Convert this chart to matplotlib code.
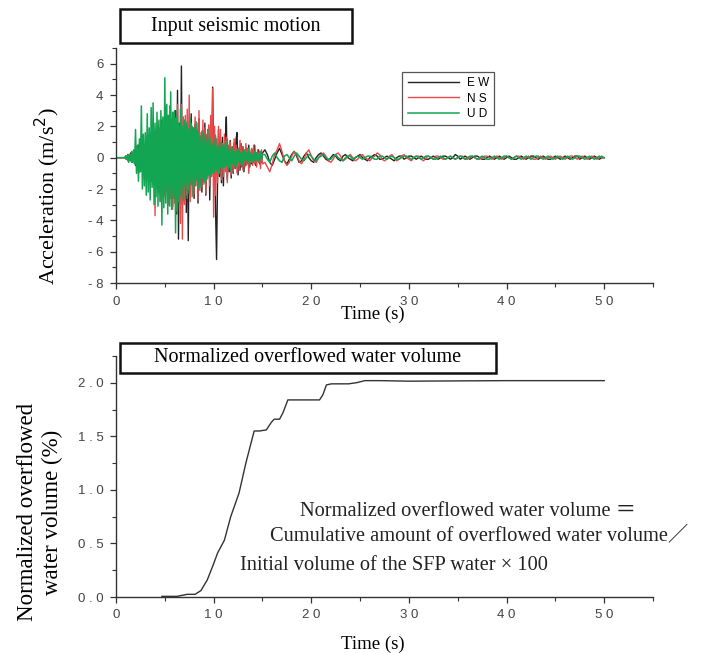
import numpy as np
import matplotlib
matplotlib.use('Agg')
import matplotlib.pyplot as plt
from matplotlib.ticker import MultipleLocator, FuncFormatter
from matplotlib.patches import Rectangle

# --- seismic records (m/s2) ---
# 0-15 s every 0.1 s
ew_fast = [0, 0, 0, 0, 0, 0, 0, 0, 0, 0,
           0.1, -0.1, 0.2, -0.2, 0.1, 0.3, -0.3, 0.2, -0.2, 0.4,
           -0.5, 0.6, -0.4, 0.8, -0.9, 0.5, -0.7, 1.0, -0.8, 0.6,
           -1.0, 1.2, -0.9, 1.4, -1.3, 0.9, -1.5, 1.6, -1.2, 1.1,
           -1.7, 1.8, -1.4, 2.0, -2.2, 1.5, -1.8, 2.4, -2.0, 1.7,
           -2.3, 2.1, -1.9, 2.6, -2.8, 2.9, -2.0, 2.4, -3.1, 2.8,
           -2.5, 3.0, -3.6, 4.3, -5.2, 2.2, -1.5, 5.85, -3.0, 2.0,
           -2.8, 1.5, -3.5, 2.3, -5.3, 1.2, -2.0, 2.8, -1.7, 1.9,
           -2.6, 2.1, -1.4, 1.8, -2.9, 2.5, -1.6, 1.3, -2.2, 1.7,
           -1.5, 2.2, -2.4, 1.4, -1.1, 2.0, -2.7, 1.6, -0.8, 4.5,
           -1.0, 1.5, -3.5, -6.5, -1.5, 1.8, -1.2, 0.9, -1.6, 1.3,
           -1.8, 0.8, 1.2, 2.6, -1.4, 0.6, -0.9, 1.1, -1.3, 0.7,
           -1.0, 0.9, -0.7, 1.2, 1.6, -1.1, 0.5, -0.8, 0.9, -0.6,
           0.7, -0.9, 0.4, -0.5, 0.6, -0.3, 0.8, -0.6, 0.3, -0.4,
           0.5, -0.3, 0.8, -0.5, 0.3, -0.2, 0.5, -0.4, 0.2, -0.3,
           0.3]
ns_fast = [0, 0, 0, 0, 0, 0, 0, 0, 0, 0,
           -0.1, 0.1, -0.2, 0.2, -0.1, 0.2, -0.3, 0.3, -0.2, 0.3,
           -0.4, 0.5, -0.6, 0.4, -0.7, 0.8, -0.5, 0.9, -1.0, 0.7,
           -0.9, 1.1, -1.3, 0.8, -1.1, 1.5, -1.4, 1.2, -1.8, 1.6,
           -3.7, 1.4, -2.0, 2.3, -1.6, 1.9, -2.8, 2.2, -2.1, 1.8,
           -2.5, 3.3, -2.2, 2.7, -3.0, 3.3, -2.6, 2.4, -3.3, 2.9,
           -2.9, 2.5, -3.4, 3.4, -2.8, 2.0, -4.2, 3.4, -5.2, 2.6,
           -3.0, 2.7, -2.4, 3.1, -2.0, 4.0, -2.8, 2.2, -2.5, 1.9,
           -2.3, 2.6, -1.8, 2.2, -2.7, 3.0, -2.1, 1.6, -1.9, 2.4,
           -1.7, 1.9, -2.3, 1.5, -1.3, 2.1, -1.8, 2.7, -1.2, 4.4,
           -3.8, 2.0, -2.4, 1.2, -1.6, 2.0, -1.0, 1.8, -1.4, 0.9,
           -1.2, 1.5, -0.9, 1.3, -1.6, 0.8, -0.6, 1.0, -1.1, 0.7,
           -0.9, 1.2, -0.6, 0.8, -1.0, 0.6, -0.8, 1.1, -0.5, 0.7,
           -0.8, 0.5, -0.6, 0.9, -0.4, 0.6, -1.0, 0.5, -0.3, 0.6,
           -0.5, 0.8, -0.4, 0.3, -0.6, 0.5, -0.3, 0.4, -0.7, 0.5,
           -0.4]
ud_fast = [0, 0, 0, 0, 0, 0, 0, 0, 0, 0,
           0.1, -0.1, 0.2, -0.3, 0.2, -0.2, 0.4, -0.3, 0.5, -0.4,
           1.8, -1.0, 0.8, -1.5, 1.2, -0.9, 3.3, -2.0, 1.5, -1.8,
           1.6, -2.4, 2.8, -2.2, 1.9, -2.7, 3.2, -1.9, 3.5, -3.0,
           2.2, -2.5, 2.9, -3.1, 2.4, -2.8, 3.0, -4.3, 2.6, -3.2,
           5.1, -2.9, 3.4, -3.6, 2.7, -3.1, 4.2, -3.3, 2.9, -2.6,
           3.0, -4.8, 2.6, -3.4, 2.2, -2.9, 3.1, -2.5, 2.0, -2.7,
           2.4, -1.9, 2.2, -2.6, 1.8, -2.3, 2.5, -1.7, 2.0, -2.4,
           1.9, -1.8, 2.3, -1.5, 1.6, -2.0, 1.4, -1.9, 1.7, -1.3,
           1.5, -1.6, 1.2, -1.4, 1.8, -1.1, 1.3, -1.2, 0.9, -1.0,
           1.1, -0.9, 1.4, -0.8, 0.7, -1.0, 0.9, -0.6, 1.0, -0.7,
           0.8, -0.6, 0.9, -0.5, 1.2, -0.7, 0.5, -0.8, 0.6, -0.4,
           0.7, -0.5, 0.4, -0.6, 0.5, -0.3, 0.6, -0.4, 0.3, -0.5,
           0.4, -0.3, 0.5, -0.2, 0.3, -0.4, 0.6, -0.2, 0.3, -0.3,
           0.2, -0.3, 0.4, -0.2, 0.3, -0.2, 0.2, -0.3, 0.4, -0.1,
           0.2]
# 15.25-50 s every 0.25 s (one row = 5 s)
ew_slow = [0.5, 0.2, -0.3, -0.5, -0.1, 0.3, 0.6, 0.2, -0.2, -0.4, -0.1, 0.2, 0.4, 0.1, -0.3, -0.2, 0.1, 0.3, 0.0, -0.2,
           -0.3, 0.0, 0.2, 0.3, 0.1, -0.1, -0.2, 0.0, 0.2, 0.1, -0.1, -0.2, 0.1, 0.2, 0.0, -0.1, -0.2, 0.0, 0.1, 0.2,
           0.0, -0.1, -0.2, 0.0, 0.1, 0.2, 0.1, -0.1, -0.1, 0.0, 0.1, 0.0, -0.1, -0.2, 0.0, 0.1, 0.1, -0.1, 0.0, 0.1,
           0.1, 0.0, -0.1, 0.0, 0.1, 0.0, -0.1, -0.1, 0.0, 0.1, 0.0, -0.1, 0.0, 0.1, 0.1, 0.0, -0.1, 0.0, 0.2, 0.1,
           -0.1, 0.0, 0.1, 0.0, -0.1, 0.0, 0.1, 0.1, 0.0, -0.1, -0.1, 0.0, 0.1, 0.0, -0.1, 0.0, 0.1, 0.0, -0.1, 0.0,
           0.1, 0.0, -0.1, -0.1, 0.0, 0.1, 0.0, -0.1, 0.0, 0.1, 0.1, 0.0, -0.1, 0.0, 0.1, 0.0, -0.1, -0.1, 0.0, 0.1,
           0.0, -0.1, 0.0, 0.1, 0.0, -0.1, 0.0, 0.1, 0.1, -0.1, 0.0, 0.1, 0.0, -0.1, 0.0, 0.1, 0.0, -0.1, 0.0, 0.0]
ns_slow = [-0.3, -0.6, -0.9, -0.4, 0.2, 0.5, 0.9, 0.4, -0.2, -0.5, -0.3, 0.1, 0.4, 0.2, -0.2, -0.4, -0.1, 0.3, 0.5, 0.1,
           -0.2, -0.3, 0.0, 0.2, 0.3, 0.1, -0.2, -0.3, -0.1, 0.2, 0.3, 0.1, -0.2, -0.1, 0.1, 0.2, 0.0, -0.2, -0.1, 0.1,
           0.2, 0.0, -0.1, -0.2, 0.0, 0.1, 0.3, 0.2, -0.1, -0.2, -0.1, 0.1, 0.2, 0.0, -0.2, -0.1, 0.1, 0.2, 0.0, -0.1,
           -0.2, 0.0, 0.1, 0.1, -0.1, -0.2, 0.0, 0.1, 0.0, -0.1, 0.1, 0.1, 0.0, -0.1, -0.1, 0.0, 0.1, 0.0, -0.1, 0.0,
           0.1, 0.1, -0.1, -0.1, 0.0, 0.1, 0.0, -0.1, -0.1, 0.0, 0.1, 0.1, 0.0, -0.1, 0.0, 0.1, 0.0, -0.1, 0.0, 0.1,
           0.0, -0.1, 0.0, 0.1, 0.1, 0.0, -0.1, 0.0, 0.1, 0.0, -0.1, -0.1, 0.0, 0.1, 0.0, -0.1, 0.0, 0.1, 0.0, -0.1,
           0.0, 0.1, 0.0, -0.1, 0.0, 0.1, 0.1, 0.0, -0.1, 0.0, 0.1, 0.0, -0.1, 0.0, 0.1, 0.0, -0.1, 0.0, 0.1, 0.0]
ud_slow = [0.2, -0.1, -0.3, 0.1, 0.3, 0.0, -0.2, -0.3, 0.1, 0.2, 0.0, -0.2, 0.1, 0.3, 0.1, -0.1, -0.2, 0.0, 0.2, 0.1,
           -0.1, -0.2, 0.0, 0.1, 0.2, 0.0, -0.1, -0.1, 0.1, 0.2, 0.0, -0.1, -0.2, 0.0, 0.1, 0.1, -0.1, 0.0, 0.1, 0.0,
           -0.1, 0.0, 0.1, 0.1, 0.0, -0.1, -0.1, 0.1, 0.1, 0.0, -0.1, 0.0, 0.1, 0.0, -0.1, -0.1, 0.0, 0.1, 0.1, 0.0,
           -0.1, 0.0, 0.1, 0.0, -0.1, 0.0, 0.1, 0.1, 0.0, -0.1, -0.1, 0.0, 0.1, 0.0, -0.1, 0.0, 0.1, 0.0, -0.1, 0.0,
           0.1, 0.0, -0.1, 0.0, 0.1, 0.1, 0.0, -0.1, 0.0, 0.1, 0.0, -0.1, -0.1, 0.0, 0.1, 0.0, -0.1, 0.0, 0.1, 0.1,
           0.0, -0.1, 0.0, 0.1, 0.0, -0.1, 0.0, 0.1, 0.0, -0.1, 0.0, 0.1, 0.1, 0.0, -0.1, 0.0, 0.1, 0.0, -0.1, 0.0,
           0.1, 0.0, -0.1, 0.0, 0.1, 0.0, -0.1, 0.0, 0.1, 0.1, 0.0, -0.1, 0.0, 0.1, 0.0, -0.1, 0.0, 0.1, 0.0, 0.0]

t_fast = np.arange(len(ew_fast)) * 0.1
t_slow = 15.25 + np.arange(len(ew_slow)) * 0.25
t_acc = np.concatenate([t_fast, t_slow])

# --- normalized overflowed water volume (%) ---
t_ov = [4.7, 6.25, 7.3, 8.1, 8.7, 9.35, 10.0, 10.4, 11.1, 11.75, 12.6, 13.3,
        14.15, 14.7, 15.4, 15.9, 16.2, 16.75, 17.1, 17.6, 18.1, 19.3, 20.85,
        21.2, 21.55, 22.05, 23.8, 24.6, 25.5, 27.0, 30.0, 40.0, 50.0]
v_ov = [0.006, 0.006, 0.025, 0.025, 0.06, 0.16, 0.31, 0.41, 0.53, 0.75, 0.97,
        1.25, 1.55, 1.55, 1.56, 1.63, 1.66, 1.66, 1.72, 1.84, 1.84, 1.84, 1.84,
        1.89, 1.98, 1.99, 1.99, 2.0, 2.02, 2.02, 2.015, 2.02, 2.02]

serif = 'Liberation Serif'
sans = 'Liberation Sans'
W, H = 704, 653

spaced = FuncFormatter(lambda v, p: ' '.join(f'{v:g}'))
spaced1 = FuncFormatter(lambda v, p: ' '.join(f'{v:.1f}'))


def style_axes(ax):
    for s in ['top', 'right']:
        ax.spines[s].set_visible(False)
    for s in ['left', 'bottom']:
        ax.spines[s].set_color('#333333')
        ax.spines[s].set_linewidth(1.0)
    ax.tick_params(which='major', direction='out', length=4, width=0.9,
                   colors='#333333', labelsize=9.5, pad=5)
    ax.tick_params(which='minor', direction='out', length=3, width=0.8,
                   colors='#333333')
    for lab in ax.get_xticklabels() + ax.get_yticklabels():
        lab.set_fontfamily(sans)
        lab.set_color('#444444')


fig = plt.figure(figsize=(W / 100, H / 100), dpi=100)

# top: acceleration
ax1 = fig.add_axes([116 / W, 1 - 283 / H, 537 / W, 235 / H])
ax1.plot(t_acc, ew_fast + ew_slow, color='#222222', lw=1.0, label='E W')
ax1.plot(t_acc, ns_fast + ns_slow, color='#e8484a', lw=1.0, label='N S')
ax1.plot(t_acc, ud_fast + ud_slow, color='#12a552', lw=1.1, label='U D')
ax1.set_xlim(0, 55)
ax1.set_ylim(-8, 7)
ax1.set_xticks([0, 10, 20, 30, 40, 50])
ax1.xaxis.set_minor_locator(MultipleLocator(5))
ax1.yaxis.set_major_locator(MultipleLocator(2))
ax1.yaxis.set_minor_locator(MultipleLocator(1))
ax1.xaxis.set_major_formatter(spaced)
ax1.yaxis.set_major_formatter(spaced)
style_axes(ax1)
ax1.set_ylabel('Acceleration (m/s$^2$)', family=serif, fontsize=16)
ax1.yaxis.set_label_coords(-0.100, 0.37)
ax1.set_xlabel('Time (s)', family=serif, fontsize=13.5)
ax1.xaxis.set_label_coords(0.479, -0.095)
leg = ax1.legend(loc='upper left', bbox_to_anchor=(0.533, 0.898),
                 borderaxespad=0, prop={'family': sans, 'size': 8.5},
                 handlelength=4.4, handletextpad=0.6, borderpad=0.45,
                 labelspacing=0.28, fancybox=False, framealpha=1)
leg.get_frame().set_edgecolor('#555555')
leg.get_frame().set_linewidth(0.9)

# bottom: overflowed water volume
ax2 = fig.add_axes([116 / W, 1 - 597 / H, 537 / W, 241 / H])
ax2.plot(t_ov, v_ov, color='#333333', lw=1.0)
ax2.set_xlim(0, 55)
ax2.set_ylim(0, 2.25)
ax2.set_xticks([0, 10, 20, 30, 40, 50])
ax2.xaxis.set_minor_locator(MultipleLocator(5))
ax2.yaxis.set_major_locator(MultipleLocator(0.5))
ax2.yaxis.set_minor_locator(MultipleLocator(0.25))
ax2.xaxis.set_major_formatter(spaced)
ax2.yaxis.set_major_formatter(spaced1)
style_axes(ax2)
ax2.set_ylabel('Normalized overflowed\nwater volume (%)', family=serif,
               fontsize=16.5, linespacing=1.25)
ax2.yaxis.set_label_coords(-0.099, 0.353)
ax2.set_xlabel('Time (s)', family=serif, fontsize=13.5)
ax2.xaxis.set_label_coords(0.479, -0.16)

# title boxes
for (x0, y0, x1, y1, txt) in [(120, 9, 352, 43, 'Input seismic motion'),
                              (120, 343, 496, 373, 'Normalized overflowed water volume')]:
    fig.patches.append(Rectangle((x0 / W, 1 - y1 / H), (x1 - x0) / W, (y1 - y0) / H,
                                 transform=fig.transFigure, facecolor='white',
                                 edgecolor='#111111', lw=1.8, zorder=5))
    fig.text((x0 + x1) / 2 / W, 1 - (y0 + y1) / 2 / H, txt, family=serif,
             fontsize=14.5, ha='center', va='center', zorder=6)

# formula annotation
fam = [serif, 'Noto Sans CJK JP']
fig.text(300 / W, 1 - 511 / H, 'Normalized overflowed water volume \uff1d',
         family=fam, fontsize=14.7, ha='left', va='center', color='#222222')
fig.text(270 / W, 1 - 537 / H, 'Cumulative amount of overflowed water volume\uff0f',
         family=fam, fontsize=14.7, ha='left', va='center', color='#222222')
fig.text(240 / W, 1 - 565 / H, 'Initial volume of the SFP water \u00d7 100',
         family=fam, fontsize=14.7, ha='left', va='center', color='#222222')

fig.savefig('out.png', dpi=100)
